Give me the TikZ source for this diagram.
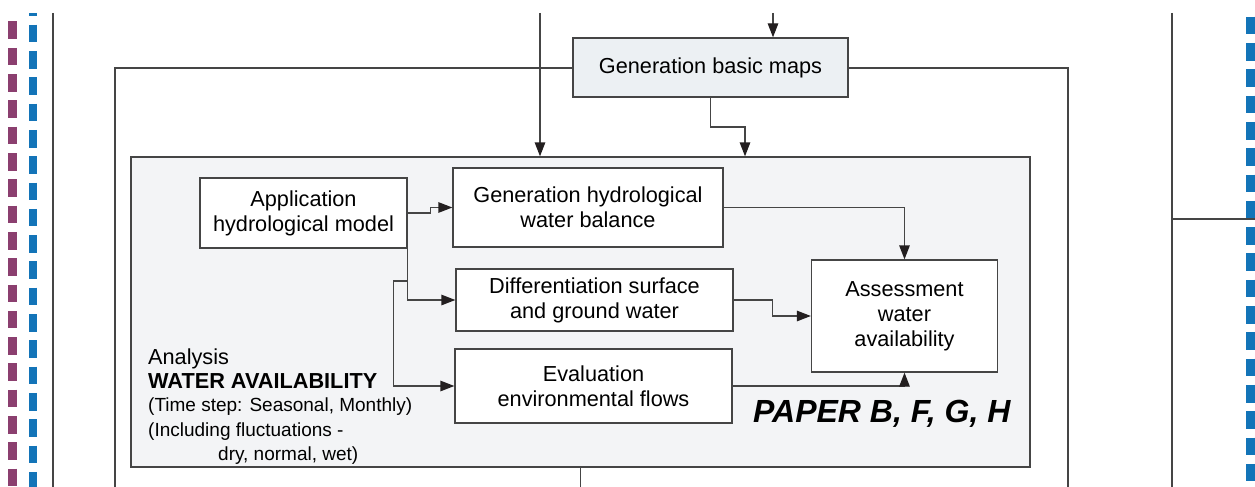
\documentclass[tikz,border=0pt]{standalone}
\usepackage{fontspec}
\setmainfont{Liberation Sans}
\usetikzlibrary{arrows.meta, positioning}

\definecolor{linecol}{HTML}{454545}
\definecolor{tipcol}{HTML}{231F20}
\definecolor{mapsfill}{HTML}{ECF0F3}
\definecolor{innerfill}{HTML}{F3F4F6}
\definecolor{purpledash}{HTML}{8B3F6F}
\definecolor{bluedash}{HTML}{1374B8}

\begin{document}
\begin{tikzpicture}[
			x=1pt, y=-1pt,
			% Stile dei blocchi
			block/.style={draw=linecol, fill=white, rectangle, line width=1.3pt, align=center, inner sep=0pt,
				font=\fontsize{21.7}{25}\selectfont},
			% Stile delle frecce
			arrow/.style={-{Triangle[length=14pt, width=10.5pt, color=tipcol]}, draw=linecol, line width=1.3pt},
			frame/.style={draw=linecol, line width=1.3pt},
			sideband/.style={line width=8.6pt, dash pattern=on 17.6pt off 8.7pt}
			]
			\useasboundingbox (0,0) rectangle (1255,487);
			
			% --- BANDE LATERALI ---
			\draw [sideband, purpledash, dash phase=17.8pt] (12.5,13) -- (12.5,487);
			\draw [sideband, bluedash, dash phase=14.6pt] (33,13) -- (33,487);
			\draw [sideband, bluedash, dash phase=22.6pt] (1250.5,13) -- (1250.5,487);
			\draw [frame] (53,13) -- (53,487);
			\draw [frame] (1172,13) -- (1172,487);
			\coordinate (rside) at (1172,219);
			\coordinate (redge) at (1255,219);
			\draw [frame] (rside) -- (redge);
			
			% --- CORNICE ESTERNA ---
			\draw [frame] (115,487) |- (1068,68) -- (1068,487);
			
			% --- BLOCCO ANALISI ---
			\node [block, fill=innerfill, minimum width=899pt, minimum height=310pt] (wabox) at (580.5,312) {};
			\node [block, fill=mapsfill, minimum width=275pt, minimum height=59pt] (maps) at (710.5,67.5) {Generation basic maps};
			
			\node [block, minimum width=207pt, minimum height=70pt] (app) at (303.5,213) {Application\\hydrological model};
			\node [block, minimum width=270pt, minimum height=79pt] (genhyd) at (588,207.5) {Generation hydrological\\water balance};
			\node [block, minimum width=277pt, minimum height=62pt] (diff) at (594.5,300) {Differentiation surface\\and ground water};
			\node [block, minimum width=277pt, minimum height=74pt] (evalf) at (593.5,386) {Evaluation\\environmental flows};
			\node [block, minimum width=186pt, minimum height=112pt] (assess) at (904.5,316) {Assessment\\water\\availability};
			
			\node [anchor=north west, align=left, inner sep=0pt, font=\fontsize{21.7}{24}\selectfont] (walabel) at (148,348.5)
				{Analysis\\
				\textbf{WATER AVAILABILITY}\\[-1pt]
				{\fontsize{19}{22}\selectfont (Time step: Seasonal, Monthly)}\\[1pt]
				{\fontsize{19}{22}\selectfont (Including fluctuations -}\\[0pt]
				{\fontsize{19}{22}\selectfont \hspace*{70pt}dry, normal, wet)}};
			
			\node [anchor=base west, inner sep=0pt, font=\fontsize{32}{36}\selectfont\bfseries\itshape] (paper) at (753,422) {PAPER B, F, G, H};
			
			% --- CONNESSIONI ---
			\coordinate (inmaps) at (773,13);
			\coordinate (inleft) at (540,13);
			\coordinate (mapsdrop) at (745,127);
			\coordinate (tap) at (406.5,281);
			
			\draw [arrow] (inmaps) -- (inmaps |- maps.north);
			\draw [arrow] (inleft) -- (inleft |- wabox.north);
			\draw [arrow] (maps.south) |- (mapsdrop) -- (mapsdrop |- wabox.north);
			\draw [frame] (wabox.south) -- ++(0,20);
			
			\draw [arrow] (app.east) -- ++(23,0) |- (genhyd.west);
			\draw [arrow] (app.south east) |- (diff.west);
			\draw [arrow] (tap) -- ++(-13,0) |- (evalf.west);
			
			\draw [arrow] (genhyd.east) -| (assess.north);
			\draw [arrow] (diff.east) -- ++(39,0) |- (assess.west);
			\draw [arrow] (evalf.east) -| (assess.south);
			
		\end{tikzpicture}
\end{document}
